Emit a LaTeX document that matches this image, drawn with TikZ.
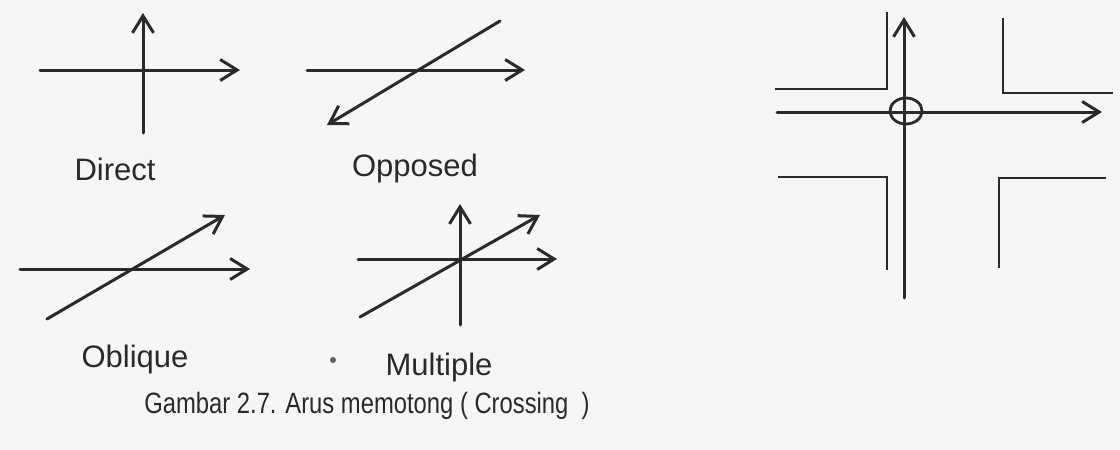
\documentclass[tikz,border=0pt]{standalone}
\usepackage{fontspec}
\setmainfont{Liberation Sans}
\usetikzlibrary{arrows.meta,shapes.geometric}
\definecolor{ink}{HTML}{2A2A2A}
\definecolor{paper}{HTML}{F6F6F8}
\tikzset{
  flow/.style={draw=ink, line width=3pt, line cap=round, -{Straight Barb[length=17pt,width=21pt,line width=3pt]}},
  road/.style={draw=ink, line width=2.8pt},
  lbl/.style={font=\fontsize{31}{36}\selectfont, text=ink, anchor=base, inner sep=0pt},
}
\begin{document}
\begin{tikzpicture}[x=1pt,y=-1pt]
\fill[paper] (0,0) rectangle (1120,450);
\useasboundingbox (0,0) rectangle (1120,450);
% Direct
\coordinate (dH1) at (40,70); \coordinate (dH2) at (240,70);
\coordinate (dV1) at (143,133); \coordinate (dV2) at (143,13);
\draw[flow] (dH1) -- (dH2);
\draw[flow] (dV1) -- (dV2);
\node[lbl] (direct) at (115,180) {Direct};
% Opposed
\coordinate (oH1) at (307,70); \coordinate (oH2) at (525,70);
\coordinate (oD1) at (500,21); \coordinate (oD2) at (327,125);
\draw[flow] (oH1) -- (oH2);
\draw[flow] (oD1) -- (oD2);
\node[lbl] (opposed) at (415,176) {Opposed};
% Oblique
\coordinate (bH1) at (20,269); \coordinate (bH2) at (250,269);
\coordinate (bD1) at (47,319); \coordinate (bD2) at (225,215);
\draw[flow] (bH1) -- (bH2);
\draw[flow] (bD1) -- (bD2);
\node[lbl] (oblique) at (135,367) {Oblique};
% Multiple
\coordinate (mH1) at (358,259); \coordinate (mH2) at (557,259);
\coordinate (mV1) at (460,325); \coordinate (mV2) at (460,204);
\coordinate (mD1) at (360,317); \coordinate (mD2) at (540,215);
\draw[flow] (mH1) -- (mH2);
\draw[flow] (mV1) -- (mV2);
\draw[flow] (mD1) -- (mD2);
\node[lbl] (multiple) at (439,375) {Multiple};
\fill[ink!75] (333,360) circle (3);
% Crossing at intersection
\coordinate (rV1) at (904,298); \coordinate (rV2) at (904,17);
\coordinate (rH1) at (777,112); \coordinate (rH2) at (1102,112);
\draw[flow] (rV1) -- (rV2);
\draw[flow] (rH1) -- (rH2);
\node[draw=ink, line width=2.8pt, ellipse, minimum width=32pt, minimum height=26pt, inner sep=0pt] (conflict) at (906,111) {};
\draw[road] (775,89) -- (887,89) -- (887,12);
\draw[road] (1003,18) -- (1003,93) -- (1113,93);
\draw[road] (778,177) -- (887,177) -- (887,270);
\draw[road] (999,268) -- (999,178) -- (1106,178);
% Caption
\node[anchor=base, inner sep=0pt, text=ink] (caption) at (367,413) {\scalebox{0.85}[1.05]{\fontsize{28}{32}\selectfont Gambar 2.7. Arus memotong ( Crossing~~)}};
\end{tikzpicture}
\end{document}
